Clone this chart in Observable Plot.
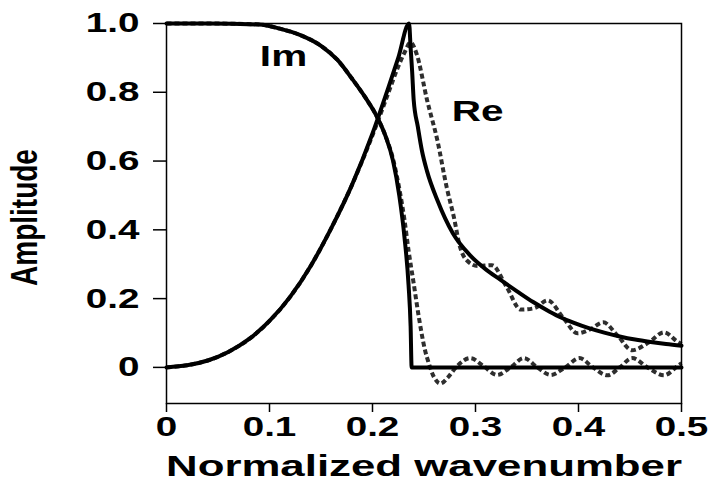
<!DOCTYPE html>
<html>
<head>
<meta charset="utf-8">
<script src="https://cdn.jsdelivr.net/npm/d3@7"></script>
<script src="https://cdn.jsdelivr.net/npm/@observablehq/plot@0.6"></script>
<style>
  body { margin: 0; background: #fff; }
  #chart { width: 710px; height: 481px; }
</style>
</head>
<body>
<div id="chart"></div>
<script>
// ---- Data ----
// Ideal (solid) imaginary part
const imIdealK = [0, 0.04, 0.09, 0.11, 0.13, 0.15, 0.166, 0.18, 0.193, 0.205, 0.213, 0.22, 0.226, 0.231, 0.235, 0.237, 0.238, 0.30, 0.40, 0.50];
const imIdealV = [1.0, 1.0, 0.997, 0.985, 0.966, 0.935, 0.894, 0.84, 0.785, 0.725, 0.67, 0.60, 0.50, 0.38, 0.24, 0.12, 0.0, 0.0, 0.0, 0.0];

// Ideal (solid) real part
const reIdealK = [0, 0.02, 0.04, 0.06, 0.08, 0.10, 0.12, 0.14, 0.16, 0.18, 0.20, 0.215, 0.225, 0.2355,
                  0.237, 0.2385, 0.240, 0.244, 0.248, 0.253, 0.263, 0.278, 0.295, 0.31, 0.324, 0.34, 0.356, 0.372,
                  0.383, 0.395, 0.41, 0.425, 0.44, 0.455, 0.47, 0.485, 0.5];
const reIdealV = [0, 0.006, 0.02, 0.045, 0.082, 0.135, 0.205, 0.295, 0.405, 0.53, 0.68, 0.81, 0.90, 1.0,
                  0.93, 0.86, 0.777, 0.70, 0.63, 0.57, 0.486, 0.39, 0.325, 0.285, 0.255, 0.222, 0.19, 0.162,
                  0.145, 0.13, 0.114, 0.101, 0.09, 0.081, 0.074, 0.068, 0.063];

// Approximation (dotted) imaginary part
const imApproxK = [0, 0.04, 0.09, 0.11, 0.13, 0.15, 0.166, 0.18, 0.193, 0.205, 0.213, 0.22, 0.226, 0.231, 0.235, 0.24, 0.245, 0.251,
                   0.254, 0.26, 0.266, 0.273, 0.281, 0.295, 0.308, 0.321, 0.334, 0.347, 0.36, 0.373, 0.387, 0.401,
                   0.414, 0.428, 0.44, 0.452, 0.467, 0.483, 0.497, 0.5];
const imApproxV = [1.0, 1.0, 0.997, 0.985, 0.966, 0.935, 0.894, 0.84, 0.785, 0.725, 0.67, 0.605, 0.52, 0.43, 0.34, 0.244, 0.146, 0.05,
                   0.018, -0.03, -0.047, -0.03, 0.0, 0.027, 0.003, -0.022, 0.0, 0.027, 0.0, -0.022, 0.0, 0.027,
                   0.0, -0.023, 0.0, 0.027, 0.0, -0.023, 0.006, 0.012];

// Approximation (dotted) real part
const reApproxK = [0, 0.02, 0.04, 0.06, 0.08, 0.10, 0.12, 0.14, 0.16, 0.18, 0.20, 0.215, 0.225, 0.231, 0.237,
                   0.243, 0.253, 0.263, 0.272, 0.279, 0.285, 0.292, 0.302, 0.316, 0.33, 0.344, 0.357, 0.37, 0.385,
                   0.399, 0.412, 0.424, 0.438, 0.452, 0.468, 0.483, 0.496, 0.5];
const reApproxV = [0, 0.006, 0.02, 0.045, 0.082, 0.135, 0.205, 0.295, 0.405, 0.53, 0.675, 0.795, 0.875, 0.915, 0.945,
                   0.91, 0.777, 0.66, 0.524, 0.437, 0.35, 0.31, 0.295, 0.297, 0.235, 0.168, 0.172, 0.195, 0.145,
                   0.099, 0.112, 0.131, 0.092, 0.05, 0.072, 0.102, 0.075, 0.068];

// Axis ticks and labels
const xTicks = [0, 0.1, 0.2, 0.3, 0.4, 0.5];
const xTickLabels = ["0", "0.1", "0.2", "0.3", "0.4", "0.5"];
const yTicks = [0, 0.2, 0.4, 0.6, 0.8, 1.0];
const yTickLabels = ["0", "0.2", "0.4", "0.6", "0.8", "1.0"];
const xTitle = "Normalized wavenumber";
const yTitle = "Amplitude";

// Curve annotations
const curveNames = ["Im", "Re"];
const curveNameK = [0.1136, 0.302];
const curveNameV = [0.904, 0.744];

// ---- Build tables ----
const rows = (ks, vs) => ks.map((k, i) => ({k, v: vs[i]}));
const imIdeal = rows(imIdealK, imIdealV);
const reIdeal = rows(reIdealK, reIdealV);
const imApprox = rows(imApproxK, imApproxV);
const reApprox = rows(reApproxK, reApproxV);
const names = curveNames.map((t, i) => ({t, k: curveNameK[i], v: curveNameV[i]}));

const fmtX = d => xTickLabels[xTicks.indexOf(d)];
const fmtY = d => yTickLabels[yTicks.indexOf(d)];

const dotted = {x: "k", y: "v", stroke: "#2e2e2e", strokeWidth: 4, strokeDasharray: "5,3",
                strokeLinecap: "butt", curve: "monotone-x"};
const solid = {x: "k", y: "v", stroke: "#000", strokeWidth: 4, curve: "monotone-x"};

const svg = Plot.plot({
  width: 710,
  height: 481,
  marginLeft: 166,
  marginRight: 29,
  marginTop: 23,
  marginBottom: 78,
  style: {fontFamily: "'Liberation Sans', Arial, Helvetica, sans-serif", fontWeight: "bold", background: "#fff", color: "#000"},
  x: {domain: [0, 0.5]},
  y: {domain: [-0.105, 1.0]},
  marks: [
    Plot.line(imApprox, dotted),
    Plot.line(reApprox, dotted),
    Plot.line(imIdeal, solid),
    Plot.line(reIdeal, solid),
    Plot.frame({stroke: "#000", strokeWidth: 1.5}),
    Plot.axisX({ticks: xTicks, tickFormat: fmtX, tickSize: 9, tickPadding: 4, strokeWidth: 1.5,
                fontSize: 28, fontWeight: "bold",
                label: xTitle, labelAnchor: "center", labelArrow: "none", labelOffset: 72}),
    Plot.axisY({ticks: yTicks, tickFormat: fmtY, tickSize: 13, tickPadding: 14, strokeWidth: 1.5,
                fontSize: 28, fontWeight: "bold",
                label: yTitle, labelAnchor: "center", labelArrow: "none", labelOffset: 158}),
    Plot.text(names, {x: "k", y: "v", text: "t", fontSize: 30, fontWeight: "bold", textAnchor: "middle", lineAnchor: "middle"})
  ]
});

document.getElementById("chart").append(svg);

// Stretch the horizontal texts to the wide lettering of the reference
const factor = {
  "x-axis tick label": 1.38,
  "y-axis tick label": 1.38,
  "text": 1.35
};
svg.querySelectorAll("text").forEach(t => {
  const g = t.closest("g[aria-label]");
  const role = g ? g.getAttribute("aria-label") : "";
  const content = t.textContent;
  let f = factor[role];
  if (content === xTitle) { t.setAttribute("font-size", "30"); t.style.fontSize = "30px"; f = 1.46; }
  if (content === yTitle) {
    t.setAttribute("font-size", "28"); t.style.fontSize = "28px";
    // widen the rotated title (horizontal scale about its centre) and nudge it into place
    const r = t.getBoundingClientRect(), s = svg.getBoundingClientRect();
    const m = t.parentNode.getCTM().inverse();
    const p = new DOMPoint(r.x - s.x + r.width / 2, r.y - s.y + r.height / 2).matrixTransform(m);
    const old = t.getAttribute("transform") || "";
    t.setAttribute("transform", `translate(${p.x + 6},${p.y + 4}) scale(1.3,1) translate(${-p.x},${-p.y}) ${old}`);
    return;
  }
  if (f) {
    const w = t.getComputedTextLength();
    t.setAttribute("textLength", (w * f).toFixed(1));
    t.setAttribute("lengthAdjust", "spacingAndGlyphs");
  }
});
</script>
</body>
</html>
